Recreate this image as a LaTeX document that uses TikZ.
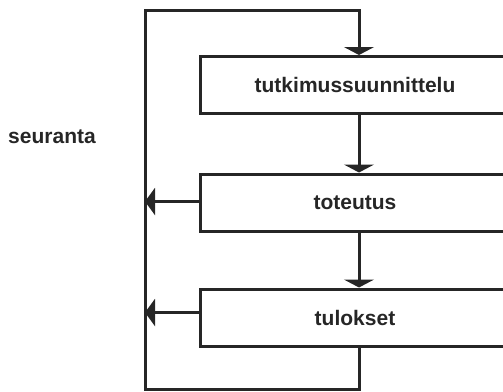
\documentclass[tikz,border=0pt]{standalone}
\usepackage{fontspec}
\setmainfont{Liberation Sans}
\usetikzlibrary{arrows.meta,positioning}

\begin{document}
\begin{tikzpicture}[x=1pt,y=-1pt,line width=3pt,line join=miter,
  phase/.style={rectangle,draw=black!85,text=black!85,minimum width=310pt,minimum height=57pt,inner sep=0pt,font=\fontsize{21}{24}\selectfont\bfseries},
  down/.style={draw=black!85,-{Triangle[length=8pt,width=30pt]}},
  back/.style={draw=black!85,-{Triangle[length=10pt,width=27pt]}}]
\useasboundingbox (0,0) rectangle (503,391);
\node[phase] (plan) at (355,85) {tutkimussuunnittelu};
\node[phase] (work) at (355,202.5) {toteutus};
\node[phase] (res) at (355,317.5) {tulokset};
\node[text=black!85,font=\fontsize{21}{24}\selectfont\bfseries] (follow) at (52,137) {seuranta};
\coordinate (bl) at (145,389);
\coordinate (tl) at (145,10);
% main flow
\draw[down] ([xshift=4pt]plan.south) -- ([xshift=4pt]work.north);
\draw[down] ([xshift=4pt]work.south) -- ([xshift=4pt]res.north);
% feedback loop
\draw[down] ([xshift=4pt]res.south) |- (bl) -- (tl) -| ([xshift=4pt]plan.north);
\draw[back] ([yshift=1pt]work.west) -- ([yshift=1pt]work.west -| tl);
\draw[back] ([yshift=5pt]res.west) -- ([yshift=5pt]res.west -| tl);
\end{tikzpicture}
\end{document}
